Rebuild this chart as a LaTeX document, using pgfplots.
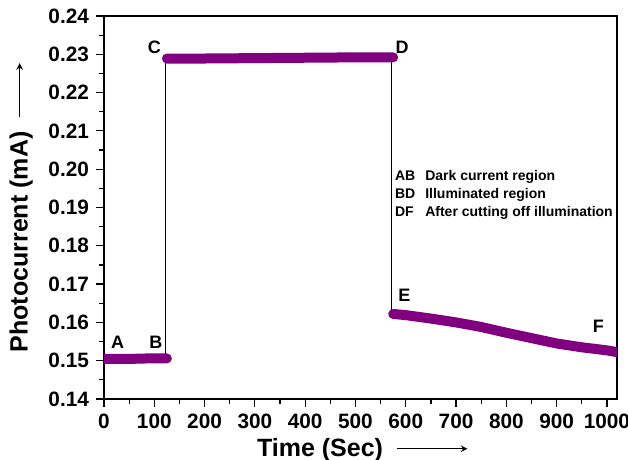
\documentclass[border=0pt]{standalone}
\usepackage{fontspec}
\setmainfont{Liberation Sans}
\usepackage{pgfplots}
\pgfplotsset{compat=1.18}
\definecolor{pp}{HTML}{800080}
\begin{document}
\begin{tikzpicture}
\path[use as bounding box] (-52pt,-30.5pt) rectangle (262pt,199.5pt);
\begin{axis}[
  at={(0,0)}, anchor=south west,
  scale only axis, width=256.5pt, height=191.5pt,
  xmin=0, xmax=1020, ymin=0.14, ymax=0.24,
  xtick={0,100,...,1000}, minor xtick={50,150,...,1050},
  ytick={0.14,0.15,...,0.241}, minor ytick={0.145,0.155,...,0.24},
  tick align=outside, tick pos=left,
  major tick length=4pt, minor tick length=2.5pt,
  tick style={black, line width=0.6pt},
  axis line style={line width=0.6pt},
  /pgf/number format/assume math mode=true,
  ticklabel style={font=\fontsize{10.4}{12}\selectfont\bfseries},
  yticklabel style={/pgf/number format/fixed, /pgf/number format/precision=2, /pgf/number format/fixed zerofill},
  xticklabel style={/pgf/number format/1000 sep={}},
  scaled y ticks=false,
  xlabel={Time (Sec)\ \ \tikz[baseline=-0.6ex]\draw[-stealth, line width=0.5pt](0,0)--(35pt,0);},
  ylabel={Photocurrent (mA)\ \ \tikz[baseline=-0.6ex]\draw[-stealth, line width=0.5pt](0,0)--(27pt,0);},
  label style={font=\fontsize{12.5}{14}\selectfont\bfseries},
  xlabel style={yshift=2pt, xshift=1pt},
  ylabel style={yshift=1pt, xshift=0pt},
]
\addplot[black, line width=0.5pt] coordinates {(122,0.1515) (122,0.2285)};
\addplot[black, line width=0.5pt] coordinates {(571,0.2287) (571,0.1628)};
\addplot[pp, line width=5pt, line cap=round, line join=round] coordinates {
(-5,0.1505) (30,0.1505) (60,0.1505) (90,0.1506) (125,0.1506)};
\addplot[pp, line width=5pt, line cap=round, line join=round] coordinates {
(125,0.2289) (200,0.2289) (300,0.2290) (400,0.2291) (500,0.2292) (575,0.2292)};
\addplot[pp, line width=5pt, line cap=round, line join=round] coordinates {
(575,0.1622) (600,0.1619) (650,0.1610) (700,0.1600) (750,0.1588) (800,0.1573) (850,0.1559) (900,0.1545) (950,0.1535) (1000,0.1527) (1030,0.1520)};
\begin{scope}[font=\fontsize{9}{10}\selectfont\bfseries]
\node at (axis cs:27,0.1549) {A};
\node at (axis cs:103,0.1549) {B};
\node at (axis cs:100,0.2319) {C};
\node at (axis cs:593,0.2319) {D};
\node at (axis cs:597,0.1670) {E};
\node at (axis cs:983,0.1589) {F};
\end{scope}
\node[anchor=north west, inner sep=0pt, align=left, font=\fontsize{7}{9}\selectfont\bfseries]
  at (axis cs:578,0.2005) {\begin{tabular}{@{}l@{\hspace{5pt}}l@{}}AB & Dark current region\\ BD & Illuminated region\\ DF & After cutting off illumination\end{tabular}};
\end{axis}
\end{tikzpicture}
\end{document}
